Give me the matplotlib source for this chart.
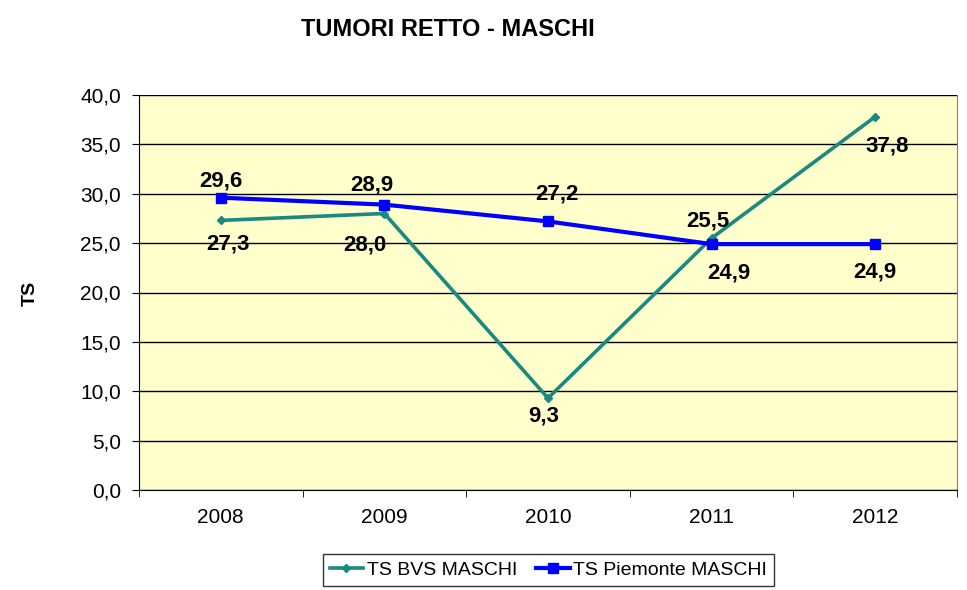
import matplotlib
matplotlib.use("Agg")
import matplotlib.pyplot as plt
from matplotlib.lines import Line2D

plt.rcParams['font.family'] = ['Liberation Sans', 'DejaVu Sans']

years = ["2008", "2009", "2010", "2011", "2012"]
bvs = [27.3, 28.0, 9.3, 25.5, 37.8]
piemonte = [29.6, 28.9, 27.2, 24.9, 24.9]
yticks = [0, 5, 10, 15, 20, 25, 30, 35, 40]

# label offsets (pixels, dx, dy upward positive)
bvs_offsets = [(7, -24), (-20, -31), (-4, -18), (-4, 17), (12, -29)]
pie_offsets = [(0, 17), (-13, 20), (9, 27), (17, -29), (0, -28)]

teal = "#1A8A80"
blue = "#0000FF"

fig = plt.figure(figsize=(9.67, 5.9), dpi=100)
ax = fig.add_axes([139/967, 1-490/590, (957-139)/967, (490-95)/590])
ax.set_facecolor("#FFFFCC")

x = list(range(len(years)))
ax.plot(x, bvs, color=teal, lw=2.6, marker="D", ms=4.5, zorder=3)
ax.plot(x, piemonte, color=blue, lw=3, marker="s", ms=6.5, zorder=4)

def label(xi, v, off):
    ax.annotate(f"{v:.1f}".replace(".", ","), (xi, v), xytext=off,
                textcoords="offset pixels", ha="center", va="center",
                fontsize=16, fontweight="bold", color="black", zorder=5)

for xi, v, o in zip(x, bvs, bvs_offsets):
    label(xi, v, o)
for xi, v, o in zip(x, piemonte, pie_offsets):
    label(xi, v, o)

ax.set_xlim(-0.5, len(years) - 0.5)
ax.set_ylim(0, 40)
ax.set_yticks(yticks)
ax.set_yticklabels([f"{t:.1f}".replace(".", ",") for t in yticks], fontsize=15)
ax.yaxis.grid(True, color="black", lw=1)
ax.set_axisbelow(True)
ax.set_xticks(x)
ax.set_xticklabels(years, fontsize=15)
ax.set_xticks([i - 0.5 for i in range(len(years) + 1)], minor=True)
ax.tick_params(axis="x", which="major", length=0, pad=13)
ax.tick_params(axis="x", which="minor", length=5, color="black", direction="out")
ax.tick_params(axis="y", length=5, color="black", direction="out", pad=8)
for s in ["left", "bottom"]:
    ax.spines[s].set_color("black")
ax.spines["right"].set_color("#808080")
ax.spines["top"].set_visible(False)

fig.text(30/967, 1-293/590, "TS", rotation=90, ha="center", va="center",
         fontsize=14, fontweight="bold")
fig.text(448/967, 1-30/590, "TUMORI RETTO - MASCHI", ha="center", va="center",
         fontsize=17, fontweight="bold")

handles = [Line2D([], [], color=teal, lw=2.6, marker="D", ms=4.5),
           Line2D([], [], color=blue, lw=3, marker="s", ms=6.5)]
leg = fig.legend(handles, ["TS BVS MASCHI", "TS Piemonte MASCHI"], loc="center",
                 bbox_to_anchor=(548.5/967, 1-570/590), ncol=2, fontsize=14,
                 frameon=True, fancybox=False, edgecolor="black",
                 handlelength=1.7, handletextpad=0.2, columnspacing=1.0,
                 borderpad=0.35)
leg.get_frame().set_linewidth(1)

fig.savefig("out.png", dpi=100)
